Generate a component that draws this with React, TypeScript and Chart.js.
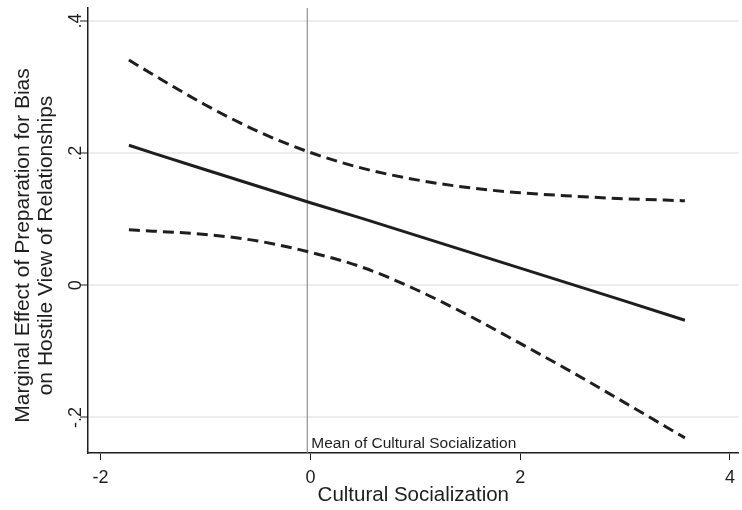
import { useEffect, useRef } from "react";
import { Chart, registerables } from "chart.js";

Chart.register(...registerables);

// ---- data ----
const socialization = [-1.73, -1.5, -1, -0.5, 0, 0.5, 1, 1.5, 2, 2.5, 3, 3.57];
const marginalEffect = [0.212, 0.2, 0.175, 0.15, 0.125, 0.101, 0.076, 0.051, 0.026, 0.001, -0.024, -0.053];
const upperCI = [0.341, 0.319, 0.273, 0.233, 0.201, 0.177, 0.16, 0.148, 0.14, 0.135, 0.131, 0.128];
const lowerCI = [0.084, 0.082, 0.077, 0.067, 0.05, 0.027, -0.006, -0.045, -0.088, -0.132, -0.178, -0.231];
const meanSocialization = -0.03;

const xTicks = [-2, 0, 2, 4];
const xTickLabels = ["-2", "0", "2", "4"];
const yTicks = [-0.2, 0, 0.2, 0.4];
const yTickLabels = ["-.2", "0", ".2", ".4"];
const xRange = [-2.12, 4.082];
const yRange = [-0.2539, 0.4198];

const xTitle = "Cultural Socialization";
const yTitle = ["Marginal Effect of Preparation for Bias", "on Hostile View of Relationships"];
const meanLabel = "Mean of Cultural Socialization";

const FONT = "'Liberation Sans', Arial, Helvetica, sans-serif";
const INK = "#1e1e1e";

const labelFor = (vals: number[], labels: string[], v: number) => {
  const i = vals.findIndex((t) => Math.abs(t - v) < 1e-9);
  return i >= 0 ? labels[i] : "";
};

const annotationPlugin = {
  id: "annotationText",
  afterDraw(chart: any) {
    const ctx = chart.ctx;
    const xs = chart.scales.x;
    const ys = chart.scales.y;
    const area = chart.chartArea;
    ctx.save();
    ctx.fillStyle = INK;
    // mean label
    ctx.font = `15.5px ${FONT}`;
    ctx.textAlign = "left";
    ctx.textBaseline = "alphabetic";
    ctx.fillText(meanLabel, xs.getPixelForValue(meanSocialization) + 4, area.bottom - 5);
    // y-axis title (two lines, rotated)
    ctx.font = `21px ${FONT}`;
    ctx.textAlign = "center";
    ctx.textBaseline = "middle";
    const cy = (area.top + area.bottom) / 2 + 15;
    yTitle.forEach((line, i) => {
      ctx.save();
      ctx.translate(ys.left + 23 + i * 23.5, cy);
      ctx.rotate(-Math.PI / 2);
      ctx.fillText(line, 0, 0);
      ctx.restore();
    });
    ctx.restore();
  },
};

export default function App() {
  const ref = useRef<HTMLCanvasElement | null>(null);

  useEffect(() => {
    document.body.style.margin = "0";
    const canvas = ref.current;
    if (!canvas) return;
    const toPts = (ys: number[]) => socialization.map((x, i) => ({ x, y: ys[i] }));

    const chart = new Chart(canvas, {
      type: "scatter",
      data: {
        datasets: [
          {
            label: "Mean",
            data: [
              { x: meanSocialization, y: yRange[0] },
              { x: meanSocialization, y: yRange[1] },
            ],
            showLine: true,
            borderColor: "#7a7a7a",
            borderWidth: 1,
            pointRadius: 0,
            order: 3,
          },
          {
            label: "Upper",
            data: toPts(upperCI),
            showLine: true,
            borderColor: INK,
            borderWidth: 3,
            borderDash: [11, 6],
            pointRadius: 0,
            cubicInterpolationMode: "monotone",
            order: 1,
          },
          {
            label: "Effect",
            data: toPts(marginalEffect),
            showLine: true,
            borderColor: INK,
            borderWidth: 3,
            pointRadius: 0,
            order: 1,
          },
          {
            label: "Lower",
            data: toPts(lowerCI),
            showLine: true,
            borderColor: INK,
            borderWidth: 3,
            borderDash: [11, 6],
            pointRadius: 0,
            cubicInterpolationMode: "monotone",
            order: 1,
          },
        ],
      },
      options: {
        responsive: false,
        devicePixelRatio: 1,
        animation: false,
        layout: { padding: { top: 8, right: 0, left: 0, bottom: 0 } },
        plugins: {
          legend: { display: false },
          tooltip: { enabled: false },
        },
        scales: {
          x: {
            type: "linear",
            min: xRange[0],
            max: xRange[1],
            afterBuildTicks: (scale: any) => {
              scale.ticks = xTicks.map((v) => ({ value: v }));
            },
            afterFit: (scale: any) => {
              scale.height = 57;
            },
            grid: {
              drawOnChartArea: false,
              drawTicks: true,
              tickLength: 7,
              tickColor: INK,
              tickWidth: 1,
            },
            border: { display: true, color: INK, width: 1.5 },
            ticks: {
              autoSkip: false,
              maxRotation: 0,
              padding: 7,
              color: INK,
              font: { family: FONT, size: 18 },
              callback: (v: any) => labelFor(xTicks, xTickLabels, Number(v)),
            },
            title: {
              display: true,
              text: xTitle,
              color: INK,
              font: { family: FONT, size: 20.5 },
              padding: { top: 0, bottom: 2.5 },
            },
          },
          y: {
            type: "linear",
            min: yRange[0],
            max: yRange[1],
            afterBuildTicks: (scale: any) => {
              scale.ticks = yTicks.map((v) => ({ value: v }));
            },
            afterFit: (scale: any) => {
              scale.width = 88;
            },
            grid: {
              drawOnChartArea: true,
              color: "#ececec",
              lineWidth: 2,
              drawTicks: true,
              tickLength: 8,
              tickColor: INK,
              tickWidth: 1,
            },
            border: { display: true, color: INK, width: 1.5 },
            ticks: {
              autoSkip: false,
              minRotation: 90,
              maxRotation: 90,
              crossAlign: "center",
              padding: -7,
              color: INK,
              font: { family: FONT, size: 18 },
              callback: (v: any) => labelFor(yTicks, yTickLabels, Number(v)),
            },
            title: { display: false },
          },
        },
      },
      plugins: [annotationPlugin],
    } as any);

    return () => chart.destroy();
  }, []);

  return (
    <div style={{ width: 742, height: 510, position: "relative", background: "#fff" }}>
      <canvas ref={ref} width={742} height={510} style={{ display: "block" }} />
    </div>
  );
}
